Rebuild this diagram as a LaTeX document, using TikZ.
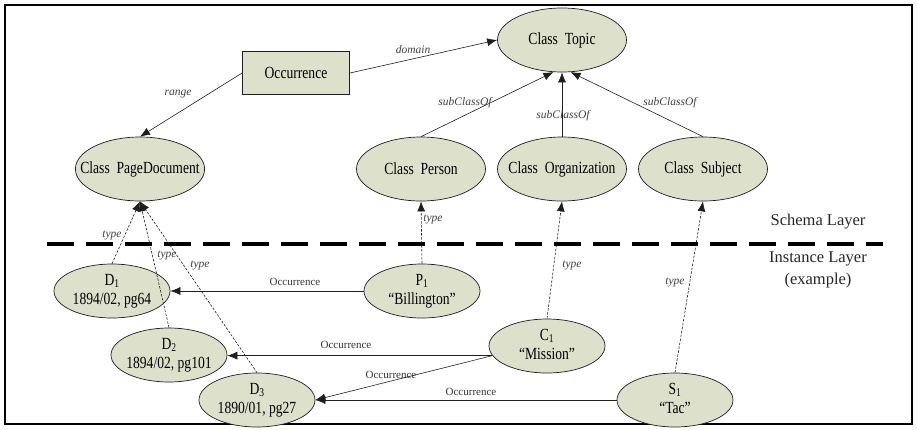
\documentclass[tikz,border=0pt]{standalone}
\usepackage{fontspec}
\setmainfont{Liberation Serif}
\usepackage{graphicx}
\usetikzlibrary{shapes.geometric,arrows.meta}
\definecolor{nodefill}{RGB}{221,225,204}
\definecolor{linecol}{RGB}{30,30,30}
\newcommand\nt[1]{\scalebox{0.8}[1]{#1}}
\newcommand\twol[2]{\nt{\begin{tabular}{@{}c@{}}#1\\#2\end{tabular}}}
\begin{document}
\begin{tikzpicture}[x=1pt,y=-1pt,
  cls/.style={ellipse,draw=linecol,fill=nodefill,line width=0.7pt,minimum width=129pt,minimum height=64pt,inner xsep=-14pt,inner ysep=-4pt,font=\fontsize{17}{19}\selectfont},
  inst/.style={ellipse,draw=linecol,fill=nodefill,line width=0.7pt,minimum width=116pt,minimum height=54pt,inner xsep=-14pt,inner ysep=-4pt,font=\fontsize{17}{19}\selectfont},
  boxnode/.style={rectangle,draw=linecol,fill=nodefill,line width=0.8pt,minimum width=107pt,minimum height=43pt,inner sep=0pt,font=\fontsize{17}{19}\selectfont},
  rel/.style={draw=linecol,line width=0.6pt,-{Latex[length=10pt,width=8pt]}},
  typ/.style={draw=linecol,line width=0.6pt,dash pattern=on 2.5pt off 1.5pt,-{Latex[length=10pt,width=8pt]}},
  lbl/.style={font=\fontsize{11.5}{13}\selectfont\itshape,text=black!75,inner sep=0pt},
  occlbl/.style={font=\fontsize{11}{13}\selectfont,text=black!80,inner sep=0pt},
  layer/.style={font=\fontsize{16.5}{19}\selectfont,text=black!85,inner sep=0pt},
]
\useasboundingbox (0,0) rectangle (917,429);
\draw[line width=1.6pt] (5,5) rectangle (912,424);

% schema layer
\node[boxnode] (occ) at (296,73) {\nt{Occurrence}};
\node[cls] (topic) at (562,40) {\nt{Class\ \ Topic}};
\node[cls,minimum width=127pt] (pd) at (140,169) {\nt{Class\ \ PageDocument}};
\node[cls] (person) at (421,169) {\nt{Class\ \ Person}};
\node[cls] (org) at (562,169) {\nt{Class\ \ Organization}};
\node[cls] (subj) at (703,169) {\nt{Class\ \ Subject}};

% instance layer
\node[inst] (d1) at (112,291) {\twol{D\textsubscript{1}}{1894/02, pg64}};
\node[inst] (d2) at (169,355) {\twol{D\textsubscript{2}}{1894/02, pg101}};
\node[inst] (d3) at (257,400) {\twol{D\textsubscript{3}}{1890/01, pg27}};
\node[inst] (p1) at (422,291) {\twol{P\textsubscript{1}}{“Billington”}};
\node[inst] (c1) at (547,346) {\twol{C\textsubscript{1}}{“Mission”}};
\node[inst] (s1) at (675,400) {\twol{S\textsubscript{1}}{“Tac”}};

% separator
\coordinate (sepL) at (47,244);
\coordinate (sepR) at (883,244);
\draw[line width=4pt,dash pattern=on 27pt off 12pt] (sepL) -- (sepR);
\node[layer] (schema) at (818,222) {Schema Layer};
\node[layer] (instance) at (818,259) {Instance Layer};
\node[layer] (example) at (818,281) {(example)};

% schema relations
\draw[rel] (occ.west) -- (pd.north);
\draw[rel] (occ.east) -- (topic.west);
\draw[rel] (person.north) -- (topic.255);
\draw[rel] (org.north) -- (topic.south);
\draw[rel] (subj.north) -- (topic.285);
\node[lbl] (lrange) at (178,94) {range};
\node[lbl] (ldomain) at (413,50) {domain};
\node[lbl] (lsub1) at (465,103) {subClassOf};
\node[lbl] (lsub2) at (563,116) {subClassOf};
\node[lbl] (lsub3) at (670,103) {subClassOf};

% type relations
\draw[typ] (d1.north) -- (pd.south);
\draw[typ] (d2.north) -- (pd.south);
\draw[typ] (d3.north) -- (pd.south);
\draw[typ] (p1.north) -- (person.south);
\draw[typ] (c1.north) -- (org.south);
\draw[typ] (s1.north) -- (subj.south);
\node[lbl] (lt1) at (112,235) {type};
\node[lbl] (lt2) at (167,255) {type};
\node[lbl] (lt3) at (200,265) {type};
\node[lbl] (lt4) at (433,219) {type};
\node[lbl] (lt5) at (572,265) {type};
\node[lbl] (lt6) at (675,282) {type};

% occurrence relations
\draw[rel] (p1.west) -- (d1.east);
\draw[rel] (c1.190) -- (d2.east |- c1.190);
\draw[rel] (c1.190) -- (d3.east);
\draw[rel] (s1.west) -- (d3.east);
\node[occlbl] (lo1) at (295,282) {Occurrence};
\node[occlbl] (lo2) at (346,345) {Occurrence};
\node[occlbl] (lo3) at (391,375) {Occurrence};
\node[occlbl] (lo4) at (471,392) {Occurrence};
\end{tikzpicture}
\end{document}
